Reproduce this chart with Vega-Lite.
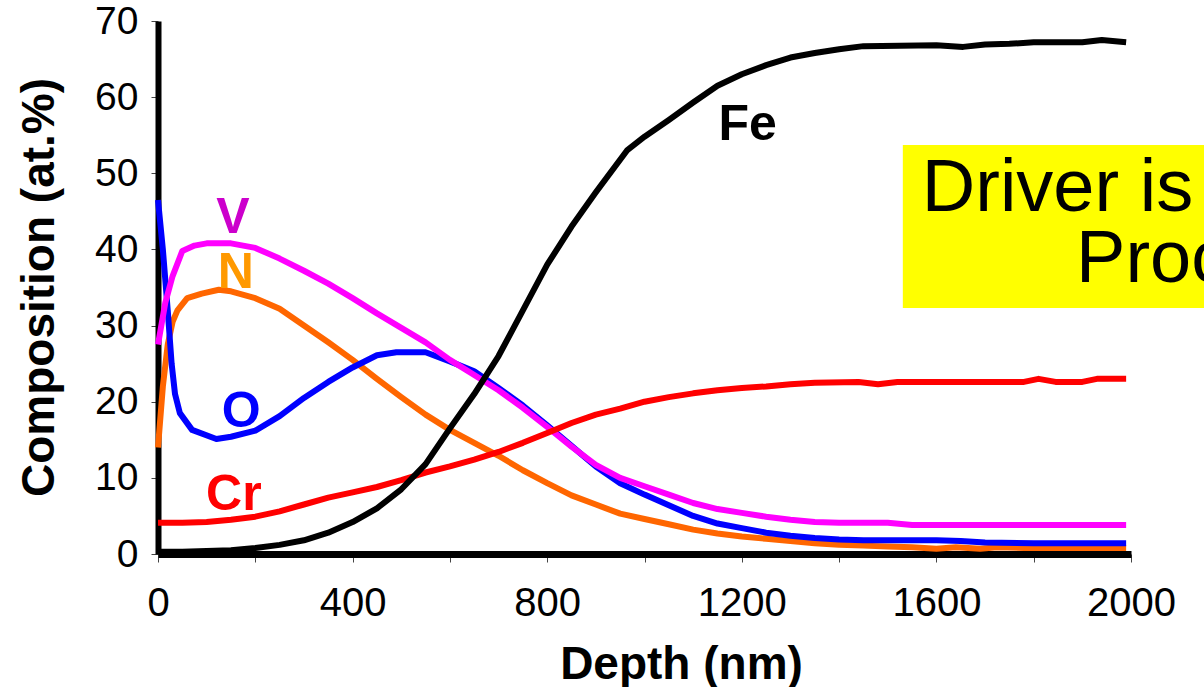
{
  "$schema": "https://vega.github.io/schema/vega-lite/v6.json",
  "autosize": {"type": "none"},
  "width": 973,
  "height": 533,
  "padding": {"left": 158, "top": 21, "right": 73, "bottom": 133},
  "background": "#ffffff",
  "config": {"view": {"stroke": null}, "font": "Liberation Sans"},
  "datasets": {
    "profiles": [
      {"depth": 0, "element": "N", "at_pct": 14.0}, {"depth": 10, "element": "N", "at_pct": 22.0}, {"depth": 20, "element": "N", "at_pct": 27.5}, {"depth": 30, "element": "N", "at_pct": 30.5}, {"depth": 40, "element": "N", "at_pct": 32.0}, {"depth": 60, "element": "N", "at_pct": 33.6}, {"depth": 90, "element": "N", "at_pct": 34.2}, {"depth": 125, "element": "N", "at_pct": 34.7}, {"depth": 150, "element": "N", "at_pct": 34.5}, {"depth": 200, "element": "N", "at_pct": 33.6}, {"depth": 250, "element": "N", "at_pct": 32.2}, {"depth": 300, "element": "N", "at_pct": 30.0}, {"depth": 350, "element": "N", "at_pct": 27.8}, {"depth": 400, "element": "N", "at_pct": 25.5}, {"depth": 450, "element": "N", "at_pct": 23.0}, {"depth": 500, "element": "N", "at_pct": 20.6}, {"depth": 550, "element": "N", "at_pct": 18.3}, {"depth": 600, "element": "N", "at_pct": 16.3}, {"depth": 650, "element": "N", "at_pct": 14.6}, {"depth": 700, "element": "N", "at_pct": 12.9}, {"depth": 750, "element": "N", "at_pct": 11.0}, {"depth": 800, "element": "N", "at_pct": 9.3}, {"depth": 850, "element": "N", "at_pct": 7.7}, {"depth": 900, "element": "N", "at_pct": 6.5}, {"depth": 950, "element": "N", "at_pct": 5.3}, {"depth": 1000, "element": "N", "at_pct": 4.6}, {"depth": 1050, "element": "N", "at_pct": 3.9}, {"depth": 1100, "element": "N", "at_pct": 3.2}, {"depth": 1150, "element": "N", "at_pct": 2.7}, {"depth": 1200, "element": "N", "at_pct": 2.3}, {"depth": 1250, "element": "N", "at_pct": 2.0}, {"depth": 1300, "element": "N", "at_pct": 1.7}, {"depth": 1350, "element": "N", "at_pct": 1.4}, {"depth": 1400, "element": "N", "at_pct": 1.2}, {"depth": 1450, "element": "N", "at_pct": 1.1}, {"depth": 1500, "element": "N", "at_pct": 1.0}, {"depth": 1550, "element": "N", "at_pct": 0.9}, {"depth": 1600, "element": "N", "at_pct": 0.7}, {"depth": 1640, "element": "N", "at_pct": 0.9}, {"depth": 1690, "element": "N", "at_pct": 0.7}, {"depth": 1725, "element": "N", "at_pct": 0.9}, {"depth": 1780, "element": "N", "at_pct": 0.8}, {"depth": 1990, "element": "N", "at_pct": 0.8},

      {"depth": 0, "element": "O", "at_pct": 46.5}, {"depth": 10, "element": "O", "at_pct": 40.0}, {"depth": 20, "element": "O", "at_pct": 32.0}, {"depth": 28, "element": "O", "at_pct": 25.0}, {"depth": 35, "element": "O", "at_pct": 21.0}, {"depth": 45, "element": "O", "at_pct": 18.5}, {"depth": 70, "element": "O", "at_pct": 16.3}, {"depth": 120, "element": "O", "at_pct": 15.1}, {"depth": 150, "element": "O", "at_pct": 15.4}, {"depth": 200, "element": "O", "at_pct": 16.2}, {"depth": 250, "element": "O", "at_pct": 18.1}, {"depth": 300, "element": "O", "at_pct": 20.5}, {"depth": 350, "element": "O", "at_pct": 22.6}, {"depth": 400, "element": "O", "at_pct": 24.5}, {"depth": 450, "element": "O", "at_pct": 26.1}, {"depth": 490, "element": "O", "at_pct": 26.5}, {"depth": 550, "element": "O", "at_pct": 26.5}, {"depth": 600, "element": "O", "at_pct": 25.3}, {"depth": 650, "element": "O", "at_pct": 24.0}, {"depth": 700, "element": "O", "at_pct": 21.8}, {"depth": 750, "element": "O", "at_pct": 19.5}, {"depth": 800, "element": "O", "at_pct": 16.9}, {"depth": 850, "element": "O", "at_pct": 14.2}, {"depth": 900, "element": "O", "at_pct": 11.5}, {"depth": 950, "element": "O", "at_pct": 9.3}, {"depth": 1000, "element": "O", "at_pct": 7.8}, {"depth": 1050, "element": "O", "at_pct": 6.4}, {"depth": 1100, "element": "O", "at_pct": 5.0}, {"depth": 1150, "element": "O", "at_pct": 4.0}, {"depth": 1200, "element": "O", "at_pct": 3.4}, {"depth": 1250, "element": "O", "at_pct": 2.8}, {"depth": 1300, "element": "O", "at_pct": 2.4}, {"depth": 1350, "element": "O", "at_pct": 2.1}, {"depth": 1400, "element": "O", "at_pct": 1.9}, {"depth": 1450, "element": "O", "at_pct": 1.8}, {"depth": 1600, "element": "O", "at_pct": 1.8}, {"depth": 1650, "element": "O", "at_pct": 1.7}, {"depth": 1700, "element": "O", "at_pct": 1.5}, {"depth": 1800, "element": "O", "at_pct": 1.4}, {"depth": 1990, "element": "O", "at_pct": 1.4},

      {"depth": 0, "element": "V", "at_pct": 27.5}, {"depth": 15, "element": "V", "at_pct": 33.0}, {"depth": 30, "element": "V", "at_pct": 36.5}, {"depth": 50, "element": "V", "at_pct": 39.8}, {"depth": 75, "element": "V", "at_pct": 40.5}, {"depth": 100, "element": "V", "at_pct": 40.8}, {"depth": 150, "element": "V", "at_pct": 40.8}, {"depth": 200, "element": "V", "at_pct": 40.2}, {"depth": 250, "element": "V", "at_pct": 38.8}, {"depth": 300, "element": "V", "at_pct": 37.2}, {"depth": 350, "element": "V", "at_pct": 35.5}, {"depth": 400, "element": "V", "at_pct": 33.6}, {"depth": 450, "element": "V", "at_pct": 31.6}, {"depth": 500, "element": "V", "at_pct": 29.7}, {"depth": 550, "element": "V", "at_pct": 27.8}, {"depth": 600, "element": "V", "at_pct": 25.5}, {"depth": 650, "element": "V", "at_pct": 23.5}, {"depth": 700, "element": "V", "at_pct": 21.5}, {"depth": 750, "element": "V", "at_pct": 19.2}, {"depth": 800, "element": "V", "at_pct": 16.7}, {"depth": 850, "element": "V", "at_pct": 14.1}, {"depth": 900, "element": "V", "at_pct": 11.7}, {"depth": 950, "element": "V", "at_pct": 10.0}, {"depth": 1000, "element": "V", "at_pct": 8.9}, {"depth": 1050, "element": "V", "at_pct": 7.8}, {"depth": 1100, "element": "V", "at_pct": 6.7}, {"depth": 1150, "element": "V", "at_pct": 5.9}, {"depth": 1200, "element": "V", "at_pct": 5.4}, {"depth": 1250, "element": "V", "at_pct": 4.9}, {"depth": 1300, "element": "V", "at_pct": 4.5}, {"depth": 1350, "element": "V", "at_pct": 4.2}, {"depth": 1400, "element": "V", "at_pct": 4.1}, {"depth": 1500, "element": "V", "at_pct": 4.1}, {"depth": 1550, "element": "V", "at_pct": 3.8}, {"depth": 1990, "element": "V", "at_pct": 3.8},

      {"depth": 0, "element": "Cr", "at_pct": 4.1}, {"depth": 50, "element": "Cr", "at_pct": 4.1}, {"depth": 100, "element": "Cr", "at_pct": 4.2}, {"depth": 150, "element": "Cr", "at_pct": 4.5}, {"depth": 200, "element": "Cr", "at_pct": 4.9}, {"depth": 250, "element": "Cr", "at_pct": 5.6}, {"depth": 300, "element": "Cr", "at_pct": 6.5}, {"depth": 350, "element": "Cr", "at_pct": 7.4}, {"depth": 400, "element": "Cr", "at_pct": 8.1}, {"depth": 450, "element": "Cr", "at_pct": 8.8}, {"depth": 500, "element": "Cr", "at_pct": 9.7}, {"depth": 550, "element": "Cr", "at_pct": 10.7}, {"depth": 600, "element": "Cr", "at_pct": 11.5}, {"depth": 650, "element": "Cr", "at_pct": 12.4}, {"depth": 700, "element": "Cr", "at_pct": 13.4}, {"depth": 750, "element": "Cr", "at_pct": 14.6}, {"depth": 800, "element": "Cr", "at_pct": 15.9}, {"depth": 850, "element": "Cr", "at_pct": 17.2}, {"depth": 900, "element": "Cr", "at_pct": 18.3}, {"depth": 950, "element": "Cr", "at_pct": 19.1}, {"depth": 1000, "element": "Cr", "at_pct": 20.0}, {"depth": 1050, "element": "Cr", "at_pct": 20.6}, {"depth": 1100, "element": "Cr", "at_pct": 21.1}, {"depth": 1150, "element": "Cr", "at_pct": 21.5}, {"depth": 1200, "element": "Cr", "at_pct": 21.8}, {"depth": 1250, "element": "Cr", "at_pct": 22.0}, {"depth": 1300, "element": "Cr", "at_pct": 22.3}, {"depth": 1350, "element": "Cr", "at_pct": 22.5}, {"depth": 1440, "element": "Cr", "at_pct": 22.6}, {"depth": 1480, "element": "Cr", "at_pct": 22.3}, {"depth": 1520, "element": "Cr", "at_pct": 22.6}, {"depth": 1780, "element": "Cr", "at_pct": 22.6}, {"depth": 1810, "element": "Cr", "at_pct": 23.0}, {"depth": 1845, "element": "Cr", "at_pct": 22.6}, {"depth": 1900, "element": "Cr", "at_pct": 22.6}, {"depth": 1930, "element": "Cr", "at_pct": 23.0}, {"depth": 1990, "element": "Cr", "at_pct": 23.0},

      {"depth": 0, "element": "Fe", "at_pct": 0.3}, {"depth": 50, "element": "Fe", "at_pct": 0.3}, {"depth": 100, "element": "Fe", "at_pct": 0.4}, {"depth": 150, "element": "Fe", "at_pct": 0.5}, {"depth": 200, "element": "Fe", "at_pct": 0.8}, {"depth": 250, "element": "Fe", "at_pct": 1.2}, {"depth": 300, "element": "Fe", "at_pct": 1.8}, {"depth": 350, "element": "Fe", "at_pct": 2.8}, {"depth": 400, "element": "Fe", "at_pct": 4.2}, {"depth": 450, "element": "Fe", "at_pct": 6.0}, {"depth": 500, "element": "Fe", "at_pct": 8.5}, {"depth": 550, "element": "Fe", "at_pct": 11.8}, {"depth": 600, "element": "Fe", "at_pct": 16.5}, {"depth": 650, "element": "Fe", "at_pct": 21.0}, {"depth": 700, "element": "Fe", "at_pct": 26.0}, {"depth": 750, "element": "Fe", "at_pct": 32.0}, {"depth": 800, "element": "Fe", "at_pct": 38.0}, {"depth": 850, "element": "Fe", "at_pct": 43.0}, {"depth": 900, "element": "Fe", "at_pct": 47.5}, {"depth": 964, "element": "Fe", "at_pct": 53.0}, {"depth": 1000, "element": "Fe", "at_pct": 54.8}, {"depth": 1050, "element": "Fe", "at_pct": 57.0}, {"depth": 1100, "element": "Fe", "at_pct": 59.3}, {"depth": 1150, "element": "Fe", "at_pct": 61.5}, {"depth": 1200, "element": "Fe", "at_pct": 63.0}, {"depth": 1250, "element": "Fe", "at_pct": 64.2}, {"depth": 1300, "element": "Fe", "at_pct": 65.2}, {"depth": 1350, "element": "Fe", "at_pct": 65.8}, {"depth": 1400, "element": "Fe", "at_pct": 66.3}, {"depth": 1450, "element": "Fe", "at_pct": 66.7}, {"depth": 1600, "element": "Fe", "at_pct": 66.8}, {"depth": 1655, "element": "Fe", "at_pct": 66.6}, {"depth": 1700, "element": "Fe", "at_pct": 66.9}, {"depth": 1750, "element": "Fe", "at_pct": 67.0}, {"depth": 1800, "element": "Fe", "at_pct": 67.2}, {"depth": 1900, "element": "Fe", "at_pct": 67.2}, {"depth": 1940, "element": "Fe", "at_pct": 67.5}, {"depth": 1990, "element": "Fe", "at_pct": 67.2}
    ],
    "labels": [
      {"element": "V", "depth": 154, "at_pct": 42.2},
      {"element": "N", "depth": 160, "at_pct": 34.9},
      {"element": "O", "depth": 171, "at_pct": 16.7},
      {"element": "Cr", "depth": 156, "at_pct": 5.8},
      {"element": "Fe", "depth": 1212, "at_pct": 54.4}
    ],
    "callout": [
      {"x0": 1531, "x1": 2500, "y0": 32.3, "y1": 53.7}
    ],
    "callout_text": [
      {"line": "Driver is", "depth": 1570, "at_pct": 45.1},
      {"line": "Process", "depth": 1887, "at_pct": 35.7}
    ]
  },
  "resolve": {"scale": {"color": "independent"}},
  "layer": [
    {
      "data": {"name": "callout"},
      "mark": {"type": "rect", "fill": "#ffff00", "stroke": null},
      "encoding": {
        "x": {"field": "x0", "type": "quantitative", "scale": {"domain": [0, 2000], "nice": false, "zero": false}},
        "x2": {"field": "x1"},
        "y": {"field": "y0", "type": "quantitative", "scale": {"domain": [0, 70], "nice": false}},
        "y2": {"field": "y1"}
      }
    },
    {
      "data": {"name": "callout_text"},
      "mark": {"type": "text", "align": "left", "baseline": "alphabetic", "font": "Liberation Sans", "fontSize": 74, "color": "#000000"},
      "encoding": {
        "x": {"field": "depth", "type": "quantitative"},
        "y": {"field": "at_pct", "type": "quantitative"},
        "text": {"field": "line"}
      }
    },
    {
      "data": {"name": "profiles"},
      "mark": {"type": "line", "strokeWidth": 6, "strokeJoin": "round", "strokeCap": "butt"},
      "encoding": {
        "x": {
          "field": "depth", "type": "quantitative",
          "scale": {"domain": [0, 2000], "nice": false, "zero": false},
          "axis": {
            "title": "Depth (nm)",
            "values": [0, 200, 400, 600, 800, 1000, 1200, 1400, 1600, 1800, 2000],
            "labelExpr": "datum.value % 400 === 0 ? datum.label : ''",
            "format": "d",
            "grid": false,
            "domainColor": "#000000", "domainWidth": 7,
            "tickColor": "#444444", "tickWidth": 1, "tickSize": 8,
            "labelFont": "Liberation Sans", "labelFontSize": 40, "labelColor": "#000000", "labelPadding": 21,
            "labelFlush": false, "labelOverlap": false,
            "titleFont": "Liberation Sans", "titleFontSize": 46, "titleFontWeight": "bold", "titleColor": "#000000",
            "titleX": 523, "titleY": 124, "titleBaseline": "alphabetic", "titleAlign": "center"
          }
        },
        "y": {
          "field": "at_pct", "type": "quantitative",
          "scale": {"domain": [0, 70], "nice": false},
          "axis": {
            "title": "Composition (at.%)",
            "values": [0, 10, 20, 30, 40, 50, 60, 70],
            "grid": false,
            "domainColor": "#000000", "domainWidth": 6,
            "tickColor": "#444444", "tickWidth": 1, "tickSize": 7,
            "labelFont": "Liberation Sans", "labelFontSize": 39, "labelColor": "#000000", "labelPadding": 13,
            "labelFlush": false, "labelOverlap": false,
            "titleFont": "Liberation Sans", "titleFontSize": 46, "titleFontWeight": "bold", "titleColor": "#000000",
            "titleAngle": 270, "titleX": -105, "titleY": 266, "titleBaseline": "alphabetic", "titleAlign": "center"
          }
        },
        "color": {
          "field": "element", "type": "nominal",
          "scale": {"domain": ["N", "O", "V", "Cr", "Fe"], "range": ["#ff6600", "#0000ff", "#ff00ff", "#ff0000", "#000000"]},
          "legend": null
        }
      }
    },
    {
      "data": {"name": "labels"},
      "mark": {"type": "text", "align": "center", "baseline": "alphabetic", "font": "Liberation Sans", "fontSize": 50, "fontWeight": "bold"},
      "encoding": {
        "x": {"field": "depth", "type": "quantitative"},
        "y": {"field": "at_pct", "type": "quantitative"},
        "text": {"field": "element"},
        "color": {
          "field": "element", "type": "nominal",
          "scale": {"domain": ["V", "N", "O", "Cr", "Fe"], "range": ["#cc00cc", "#ff9900", "#0000ff", "#ff0000", "#000000"]},
          "legend": null
        }
      }
    }
  ]
}
